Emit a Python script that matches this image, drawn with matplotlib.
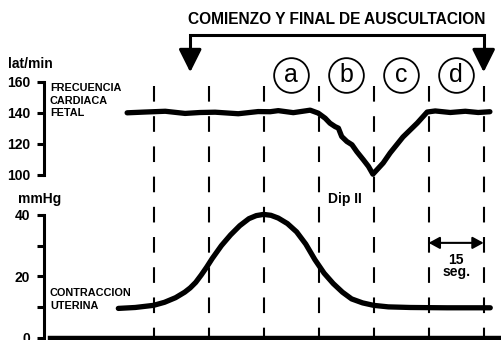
import matplotlib
matplotlib.use('Agg')
import matplotlib.pyplot as plt

# frecuencia cardiaca fetal: tiempo (s) y lat/min
fhr_t = [22.8, 27.7, 33.2, 38.6, 42.7, 46.8, 53.1, 58.5, 61.8, 64.0, 68.1, 72.7,
         74.9, 76.8, 78.1, 79.5, 80.4, 81.3, 82.7, 84.1, 85.4, 87.2, 88.6, 89.8,
         92.6, 94.5, 98.0, 101.9, 104.6, 106.8, 110.9, 115.0, 118.5, 121.7]
fhr_bpm = [139.8, 140.3, 140.8, 139.4, 140.0, 140.2, 139.2, 140.6, 140.5, 141.2, 139.9, 141.5,
           139.6, 136.3, 133.1, 130.9, 129.9, 124.5, 121.3, 119.2, 114.8, 109.5, 105.2, 100.2,
           107.4, 113.9, 124.2, 133.2, 140.3, 141.0, 140.0, 140.8, 140.0, 140.5]

# contraccion uterina: tiempo (s) y mmHg
uc_t = [20.4, 25, 30, 33, 36, 38.5, 40, 41.5, 43, 44.5, 46, 48.5, 51, 53.5, 56, 58, 60, 62, 64,
        66.5, 69, 71.5, 74, 76.5, 79, 81.5, 84, 87, 90, 94, 100, 110, 121.8]
uc_mmhg = [9.5, 9.8, 10.5, 11.5, 13, 14.8, 16.2, 18, 20.4, 23, 25.8, 30, 33.5, 36.5, 38.8, 39.8, 40.2, 39.9, 39,
           37.2, 34.5, 30.5, 25.4, 21, 17.6, 14.8, 12.6, 11.3, 10.5, 10, 9.8, 9.7, 9.7]

grid_t = [30, 45, 60, 75, 90, 105, 120]
phases = ['a', 'b', 'c', 'd']
fhr_ticks = [100, 120, 140, 160]
uc_ticks = [0, 10, 20, 30, 40]
uc_ticklabels = ['0', '', '20', '', '40']
auscult = [40, 120]  # comienzo y final de auscultacion (s)

plt.rcParams['font.family'] = ['Liberation Sans', 'DejaVu Sans']
plt.rcParams['font.weight'] = 'bold'

W, H = 502, 340
fig = plt.figure(figsize=(W / 100, H / 100), dpi=100)


def box(x0, y0, x1, y1):
    # pixel box (origin top-left) -> figure rect
    return [x0 / W, 1 - y1 / H, (x1 - x0) / W, (y1 - y0) / H]


def fx(x):
    return x / W


def fy(y):
    return 1 - y / H


xmax = 125.0
axg = fig.add_axes(box(43.5, 86, 502, 338))
ax1 = fig.add_axes(box(43.5, 58.25, 502, 190), sharex=axg)
ax2 = fig.add_axes(box(43.5, 190.5, 502, 337.5), sharex=axg)

axg.set_xlim(0, xmax)
axg.set_ylim(0, 1)
axg.axis('off')
for t in grid_t:
    axg.axvline(t, ymin=1, ymax=0, color='k', lw=1.5, dashes=(7.5, 7))

for ax in (ax1, ax2):
    ax.patch.set_visible(False)
    ax.spines['top'].set_visible(False)
    ax.spines['right'].set_visible(False)
    ax.spines['left'].set_linewidth(2.2)
    ax.tick_params(axis='x', bottom=False, labelbottom=False)
    ax.tick_params(axis='y', length=5, width=2.2, pad=4.5, labelsize=10)

# FCF
ax1.set_ylim(90, 175)
ax1.spines['bottom'].set_visible(False)
ax1.spines['left'].set_bounds(100, 160)
ax1.set_yticks(fhr_ticks)
ax1.plot(fhr_t, fhr_bpm, color='k', lw=3.8, solid_capstyle='round', solid_joinstyle='round')

# fases a-d
mids = [(grid_t[i] + grid_t[i + 1]) / 2 for i in range(2, 6)]
ax1.plot(mids, [164.2] * len(mids), 'o', ms=25, mfc='white', mec='k', mew=1.3, clip_on=False)
for m, p in zip(mids, phases):
    ax1.text(m, 164.2, p, ha='center', va='center', fontsize=18, fontweight='normal')

# comienzo y final de auscultacion
ax1.plot([auscult[0], auscult[0], auscult[1], auscult[1]], [175, 190, 190, 175],
         color='k', lw=2.2, clip_on=False, solid_joinstyle='miter')
for a in auscult:
    ax1.annotate('', xy=(a, 166), xytext=(a, 176), annotation_clip=False,
                 arrowprops=dict(arrowstyle='-|>,head_length=0.7,head_width=0.35',
                                 color='k', lw=2.2, mutation_scale=20, shrinkA=0, shrinkB=0))
fig.text(fx(336.5), fy(20), 'COMIENZO Y FINAL DE AUSCULTACION', ha='center', va='center',
         fontsize=11.2)

# contraccion
ax2.set_ylim(0, 48)
ax2.spines['left'].set_bounds(0, 40)
ax2.spines['bottom'].set_linewidth(3.2)
ax2.spines['bottom'].set_bounds(1.8, xmax)
ax2.set_yticks(uc_ticks)
ax2.set_yticklabels(uc_ticklabels)
ax2.plot(uc_t, uc_mmhg, color='k', lw=3.8, solid_capstyle='round', solid_joinstyle='round')

ax2.text(82.2, 45.2, 'Dip II', ha='center', va='center', fontsize=10)
ax2.annotate('', xy=(grid_t[-2], 30.9), xytext=(grid_t[-1], 30.9), annotation_clip=False,
             arrowprops=dict(arrowstyle='<|-|>,head_length=0.55,head_width=0.3',
                             color='k', lw=1.5, mutation_scale=12, shrinkA=0, shrinkB=0))
ax2.text((grid_t[-2] + grid_t[-1]) / 2, 23.3, '15\nseg.', ha='center', va='center',
         fontsize=10, linespacing=0.85)

# rotulos
fig.text(fx(8), fy(64), 'lat/min', ha='left', va='center', fontsize=10)
fig.text(fx(18), fy(199), 'mmHg', ha='left', va='center', fontsize=10)
fig.text(fx(50), fy(100.5), 'FRECUENCIA\nCARDIACA\nFETAL', ha='left', va='center',
         fontsize=7.8, linespacing=1.3)
fig.text(fx(50), fy(299.5), 'CONTRACCION\nUTERINA', ha='left', va='center',
         fontsize=7.8, linespacing=1.35)

fig.savefig('out.png', dpi=100)
